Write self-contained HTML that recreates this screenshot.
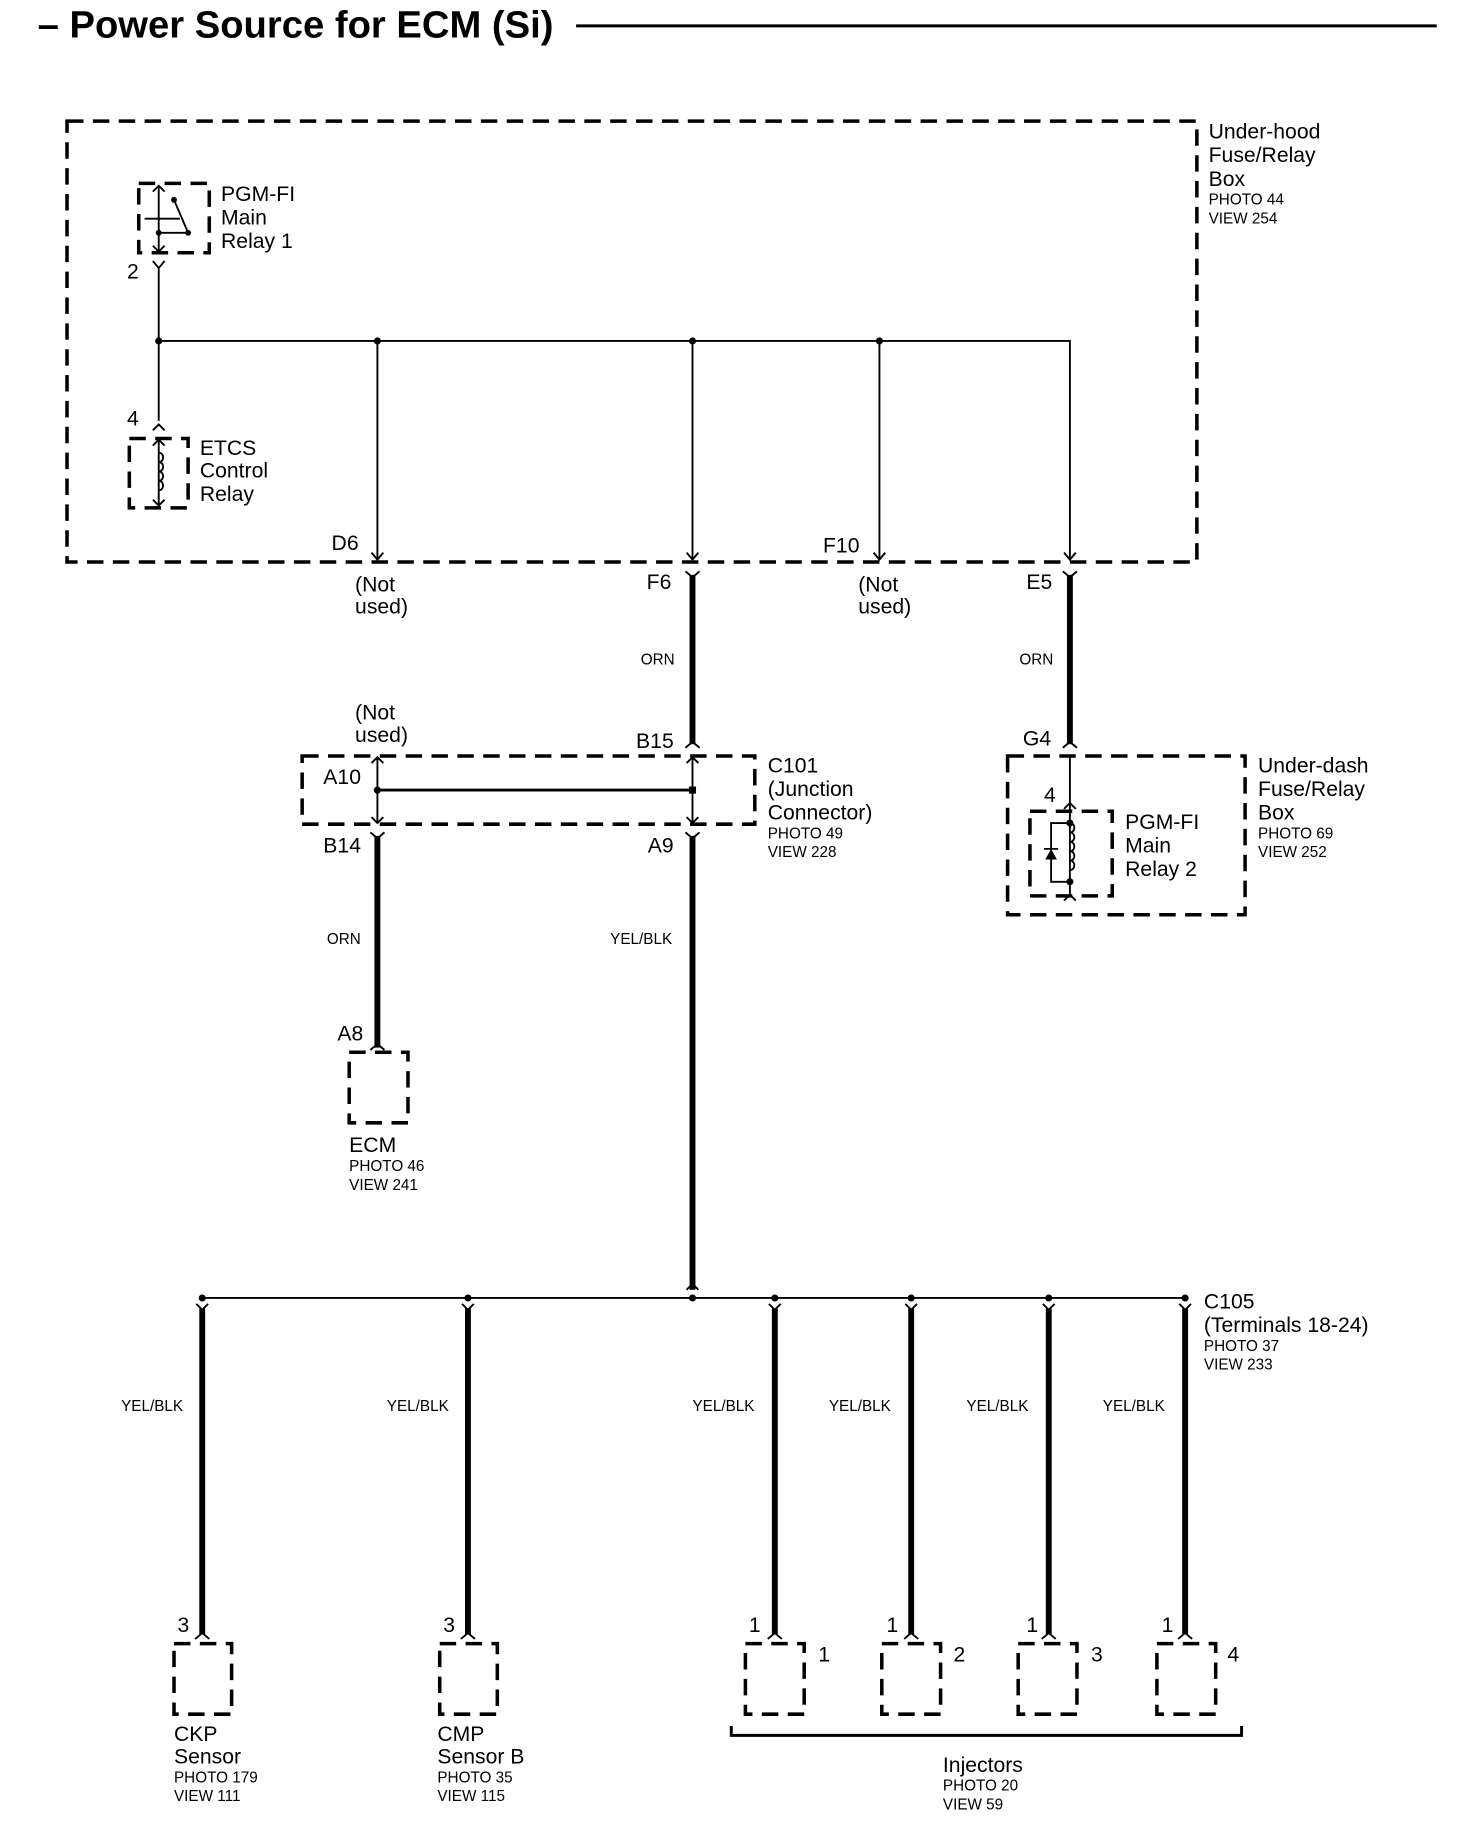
<!DOCTYPE html>
<html><head><meta charset="utf-8"><style>
html,body{margin:0;padding:0;background:#fff;}
svg{display:block;}
text{font-family:"Liberation Sans",Arial,sans-serif;fill:#000;}
.b{font-size:18px;}
.s{font-size:13px;}
.d{fill:none;stroke:#000;stroke-width:3;stroke-dasharray:14 8;}
.t{stroke:#000;stroke-width:1.6;fill:none;}
.k{stroke:#000;stroke-width:5;fill:none;}
</style></head><body>
<svg width="1472" height="1842" viewBox="0 0 1252 1566.7" preserveAspectRatio="none" xmlns="http://www.w3.org/2000/svg">
<text x="32" y="32" style="font-size:32.5px;font-weight:bold">– Power Source for ECM (Si)</text>
<line x1="490" y1="22" x2="1222" y2="22" stroke="#000" stroke-width="2.5"/>

<rect x="57" y="103" width="961" height="375" class="d"/>
<text class="b" x="1028" y="118">Under-hood</text>
<text class="b" x="1028" y="138">Fuse/Relay</text>
<text class="b" x="1028" y="158">Box</text>
<text class="s" x="1028" y="174">PHOTO 44</text>
<text class="s" x="1028" y="190">VIEW 254</text>

<rect x="118" y="156" width="60" height="59" class="d"/>
<path class="t" d="M135 158v56M130 163l5-5 5 5M130 209l5 5 5-5"/>
<path class="t" d="M148 170l12 28M123 186h30M136 198h24" />
<circle cx="148" cy="170" r="2.5"/><circle cx="160" cy="198" r="2.5"/><circle cx="135" cy="198" r="2.5"/>
<text class="b" x="188" y="171">PGM-FI</text>
<text class="b" x="188" y="191">Main</text>
<text class="b" x="188" y="211">Relay 1</text>
<text class="b" x="108" y="237">2</text>
<path class="t" d="M130 222l5 6 5-6M135 228V358M130 366l5-5 5 5"/>
<circle cx="135" cy="290" r="3"/>
<text class="b" x="108" y="362">4</text>

<rect x="110" y="373" width="50" height="59" class="d"/>
<path class="t" d="M135 374v56M130 379l5-5 5 5M130 425l5 5 5-5"/>
<path class="t" d="M135 385c5 0 5 8 0 8c5 0 5 8 0 8c5 0 5 8 0 8c5 0 5 8 0 8"/>
<text class="b" x="170" y="387">ETCS</text>
<text class="b" x="170" y="406">Control</text>
<text class="b" x="170" y="426">Relay</text>

<path class="t" d="M135 290H910V476M321 290V476M589 290V476M748 290V476"/>
<circle cx="321" cy="290" r="3"/><circle cx="589" cy="290" r="3"/><circle cx="748" cy="290" r="3"/>
<path class="t" d="M316 470l5 6 5-6M584 470l5 6 5-6M743 470l5 6 5-6M905 470l5 6 5-6"/>
<text class="b" x="282" y="468">D6</text>
<text class="b" x="700" y="470">F10</text>
<text class="b" x="302" y="503">(Not</text><text class="b" x="302" y="522">used)</text>
<text class="b" x="730" y="503">(Not</text><text class="b" x="730" y="522">used)</text>
<text class="b" x="550" y="501">F6</text>
<text class="b" x="873" y="501">E5</text>

<path class="t" d="M583 486l6 5 6-5M904 486l6 5 6-5M583 636l6-5 6 5M904 636l6-5 6 5"/>
<path class="k" d="M589 489V633M910 489V633"/>
<text class="s" x="545" y="565">ORN</text>
<text class="s" x="867" y="565">ORN</text>

<rect x="257" y="643" width="385" height="58" class="d"/>
<path class="t" d="M321 644V700M589 644V700M316 649l5-5 5 5M316 695l5 5 5-5M584 649l5-5 5 5M584 695l5 5 5-5"/>
<path d="M321 672H589" stroke="#000" stroke-width="2.5"/>
<circle cx="321" cy="672" r="3"/><rect x="586" y="669" width="6" height="6"/>
<text class="b" x="302" y="612">(Not</text><text class="b" x="302" y="631">used)</text>
<text class="b" x="541" y="636">B15</text>
<text class="b" x="275" y="667">A10</text>
<text class="b" x="275" y="725">B14</text>
<text class="b" x="551" y="725">A9</text>
<text class="b" x="653" y="657">C101</text>
<text class="b" x="653" y="677">(Junction</text>
<text class="b" x="653" y="697">Connector)</text>
<text class="s" x="653" y="713">PHOTO 49</text>
<text class="s" x="653" y="729">VIEW 228</text>
<path class="t" d="M315 708l6 5 6-5M583 708l6 5 6-5"/>
<path class="k" d="M321 711V891M589 711V1097"/>
<text class="s" x="278" y="803">ORN</text>
<text class="s" x="519" y="803">YEL/BLK</text>
<text class="b" x="287" y="885">A8</text>
<path class="t" d="M315 893l6-5 6 5"/>
<rect x="297" y="895" width="50" height="60" class="d"/>
<text class="b" x="297" y="980">ECM</text>
<text class="s" x="297" y="996">PHOTO 46</text>
<text class="s" x="297" y="1012">VIEW 241</text>

<rect x="857" y="643" width="202" height="135" class="d"/>
<rect x="876" y="690" width="70" height="72" class="d"/>
<text class="b" x="888" y="682">4</text>
<path class="t" d="M910 643V762M905 688l5-5 5 5M905 766l5-5 5 5"/>
<path class="t" d="M910 700H894V750H910"/>
<path class="t" d="M910 700c5 0 5 8 0 8c5 0 5 8 0 8c5 0 5 8 0 8c5 0 5 8 0 8c5 0 5 8 0 8"/>
<path d="M889 731h10l-5-9z"/><line x1="888" y1="722" x2="900" y2="722" stroke="#000" stroke-width="1.5"/>
<circle cx="910" cy="700" r="3"/><circle cx="910" cy="750" r="3"/>
<text class="b" x="957" y="705">PGM-FI</text>
<text class="b" x="957" y="725">Main</text>
<text class="b" x="957" y="745">Relay 2</text>
<text class="b" x="870" y="634">G4</text>
<text class="b" x="1070" y="657">Under-dash</text>
<text class="b" x="1070" y="677">Fuse/Relay</text>
<text class="b" x="1070" y="697">Box</text>
<text class="s" x="1070" y="713">PHOTO 69</text>
<text class="s" x="1070" y="729">VIEW 252</text>

<path class="t" d="M172 1104H1008"/>
<circle cx="589" cy="1104" r="3"/>
<path class="t" d="M584 1097l5-5 5 5"/>
<g>
<circle cx="172" cy="1104" r="3"/><circle cx="398" cy="1104" r="3"/><circle cx="659" cy="1104" r="3"/><circle cx="775" cy="1104" r="3"/><circle cx="892" cy="1104" r="3"/><circle cx="1008" cy="1104" r="3"/>
<path class="t" d="M167 1109l5 5 5-5M393 1109l5 5 5-5M654 1109l5 5 5-5M770 1109l5 5 5-5M887 1109l5 5 5-5M1003 1109l5 5 5-5"/>
<path class="k" d="M172 1113V1390M398 1113V1390M659 1113V1390M775 1113V1390M892 1113V1390M1008 1113V1390"/>
<path class="t" d="M166 1394l6-5 6 5M392 1394l6-5 6 5M653 1394l6-5 6 5M769 1394l6-5 6 5M886 1394l6-5 6 5M1002 1394l6-5 6 5"/>
</g>
<text class="s" x="103" y="1200">YEL/BLK</text>
<text class="s" x="329" y="1200">YEL/BLK</text>
<text class="s" x="589" y="1200">YEL/BLK</text>
<text class="s" x="705" y="1200">YEL/BLK</text>
<text class="s" x="822" y="1200">YEL/BLK</text>
<text class="s" x="938" y="1200">YEL/BLK</text>
<text class="b" x="1024" y="1113">C105</text>
<text class="b" x="1024" y="1133">(Terminals 18-24)</text>
<text class="s" x="1024" y="1149">PHOTO 37</text>
<text class="s" x="1024" y="1165">VIEW 233</text>

<rect x="148" y="1398" width="49" height="60" class="d"/>
<rect x="374" y="1398" width="49" height="60" class="d"/>
<rect x="634" y="1398" width="50" height="60" class="d"/>
<rect x="750" y="1398" width="50" height="60" class="d"/>
<rect x="866" y="1398" width="50" height="60" class="d"/>
<rect x="984" y="1398" width="50" height="60" class="d"/>
<text class="b" x="151" y="1388">3</text>
<text class="b" x="377" y="1388">3</text>
<text class="b" x="637" y="1388">1</text>
<text class="b" x="754" y="1388">1</text>
<text class="b" x="873" y="1388">1</text>
<text class="b" x="988" y="1388">1</text>
<text class="b" x="696" y="1413">1</text>
<text class="b" x="811" y="1413">2</text>
<text class="b" x="928" y="1413">3</text>
<text class="b" x="1044" y="1413">4</text>
<text class="b" x="148" y="1481">CKP</text>
<text class="b" x="148" y="1500">Sensor</text>
<text class="s" x="148" y="1516">PHOTO 179</text>
<text class="s" x="148" y="1532">VIEW 111</text>
<text class="b" x="372" y="1481">CMP</text>
<text class="b" x="372" y="1500">Sensor B</text>
<text class="s" x="372" y="1516">PHOTO 35</text>
<text class="s" x="372" y="1532">VIEW 115</text>
<path d="M622 1468V1476H1056V1468" fill="none" stroke="#000" stroke-width="2.5"/>
<text class="b" x="802" y="1507">Injectors</text>
<text class="s" x="802" y="1523">PHOTO 20</text>
<text class="s" x="802" y="1539">VIEW 59</text>
</svg>
</body></html>
